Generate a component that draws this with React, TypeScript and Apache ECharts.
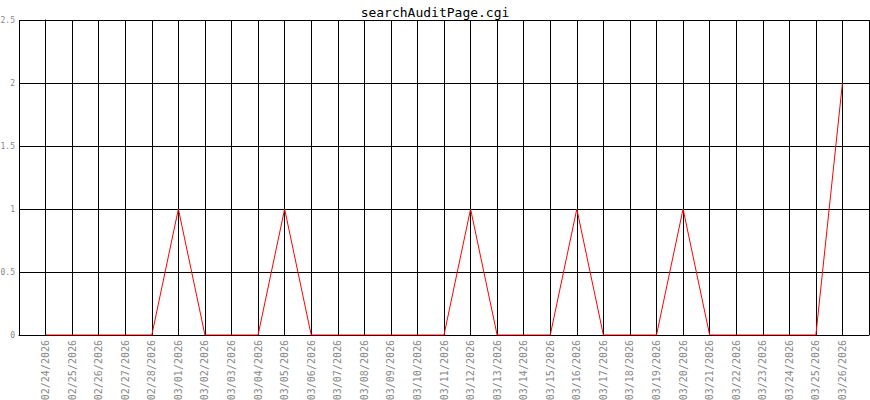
import React, { useEffect, useRef } from "react";
import * as echarts from "echarts";

const title = "searchAuditPage.cgi";
const categories = [
  "02/24/2026", "02/25/2026", "02/26/2026", "02/27/2026", "02/28/2026",
  "03/01/2026", "03/02/2026", "03/03/2026", "03/04/2026", "03/05/2026",
  "03/06/2026", "03/07/2026", "03/08/2026", "03/09/2026", "03/10/2026",
  "03/11/2026", "03/12/2026", "03/13/2026", "03/14/2026", "03/15/2026",
  "03/16/2026", "03/17/2026", "03/18/2026", "03/19/2026", "03/20/2026",
  "03/21/2026", "03/22/2026", "03/23/2026", "03/24/2026", "03/25/2026",
  "03/26/2026",
];
const values = [
  0, 0, 0, 0, 0,
  1, 0, 0, 0, 1,
  0, 0, 0, 0, 0,
  0, 1, 0, 0, 0,
  1, 0, 0, 0, 1,
  0, 0, 0, 0, 0,
  2,
];

const MONO = "'DejaVu Sans Mono', 'Liberation Mono', monospace";

export default function App() {
  const ref = useRef<HTMLDivElement>(null);
  useEffect(() => {
    if (!ref.current) return;
    const chart = echarts.init(ref.current, null, { renderer: "svg" });
    const n = categories.length;
    chart.setOption({
      animation: false,
      backgroundColor: "#fff",
      title: {
        text: title,
        left: "center",
        top: 1,
        textStyle: { fontFamily: MONO, fontSize: 13, fontWeight: "normal", color: "#000" },
      },
      grid: { left: 19, top: 20, right: 1, bottom: 65, containLabel: false, outerBoundsMode: "none" },
      xAxis: {
        type: "value",
        min: -1,
        max: n,
        interval: 1,
        axisLine: { show: true, lineStyle: { color: "#000", width: 1 } },
        axisTick: { show: false },
        splitLine: { show: true, lineStyle: { color: "#000", width: 1 } },
        axisLabel: {
          rotate: 90,
          margin: 5,
          fontFamily: MONO,
          fontSize: 10,
          color: "#888",
          showMinLabel: true,
          showMaxLabel: true,
          formatter: (v: number) => (v >= 0 && v < n ? categories[v] : ""),
        },
      },
      yAxis: {
        type: "value",
        min: 0,
        max: 2.5,
        interval: 0.5,
        axisLine: { show: true, lineStyle: { color: "#000", width: 1 } },
        axisTick: { show: false },
        splitLine: { show: true, lineStyle: { color: "#000", width: 1 } },
        axisLabel: {
          margin: 4,
          fontFamily: MONO,
          fontSize: 8,
          color: "#888",
          formatter: (v: number) => String(v),
        },
      },
      series: [
        {
          type: "line",
          data: values.map((v, i) => [i, v]),
          symbol: "none",
          lineStyle: { color: "#ff0000", width: 1 },
          itemStyle: { color: "#ff0000" },
        },
      ],
    });
    return () => chart.dispose();
  }, []);
  return <div ref={ref} style={{ width: 870, height: 400, position: "absolute", left: 0, top: 0 }} />;
}
